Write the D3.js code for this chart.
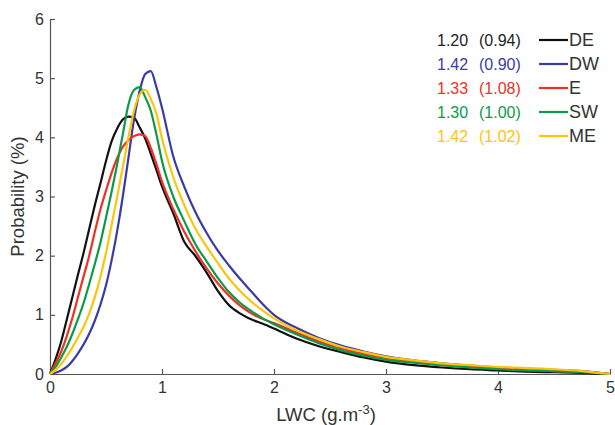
<!DOCTYPE html>
<html>
<head>
<meta charset="utf-8">
<script src="https://cdn.jsdelivr.net/npm/d3@7"></script>
<style>
  body { margin: 0; background: #fff; }
  svg { display: block; font-family: 'Liberation Sans', Arial, sans-serif; }
  .axis path, .axis line { stroke: #555; stroke-width: 1.2; }
  .axis text { font-size: 16px; fill: #333; }
</style>
</head>
<body>
<div id="chart"></div>
<script>
// LWC grid (g.m-3)
const lwc = [0, 0.05, 0.1, 0.15, 0.2, 0.25, 0.3, 0.35, 0.4, 0.45, 0.5, 0.55, 0.6, 0.65, 0.7, 0.75, 0.8, 0.85, 0.9, 0.95,
  1.0, 1.1, 1.2, 1.3, 1.4, 1.5, 1.6, 1.7, 1.8, 1.9, 2.0, 2.2, 2.4, 2.6, 2.8, 3.0, 3.25, 3.5, 3.75, 4.0, 4.25, 4.5, 4.75, 5.0];

// probability (%) per regime
const probDE = [0, 0.25, 0.55, 0.92, 1.3, 1.68, 2.05, 2.45, 2.85, 3.22, 3.6, 3.93, 4.15, 4.3, 4.35, 4.33, 4.17, 3.98, 3.72, 3.45,
  3.17, 2.72, 2.23, 1.99, 1.71, 1.40, 1.16, 1.02, 0.92, 0.85, 0.77, 0.60, 0.47, 0.37, 0.28, 0.21, 0.15, 0.11, 0.08, 0.06, 0.04, 0.03, 0.02, 0];
const probDW = [0, 0.02, 0.06, 0.12, 0.22, 0.35, 0.5, 0.68, 0.9, 1.17, 1.5, 1.92, 2.42, 3.0, 3.65, 4.3, 4.78, 5.07, 5.12, 4.85,
  4.5, 3.68, 3.16, 2.73, 2.38, 2.08, 1.83, 1.6, 1.39, 1.18, 1.0, 0.78, 0.61, 0.48, 0.38, 0.30, 0.23, 0.18, 0.14, 0.11, 0.09, 0.07, 0.05, 0];
const probE = [0, 0.18, 0.38, 0.64, 0.95, 1.3, 1.65, 2.0, 2.4, 2.78, 3.1, 3.4, 3.65, 3.84, 3.95, 4.02, 4.05, 4.02, 3.82, 3.55,
  3.25, 2.79, 2.40, 2.07, 1.78, 1.53, 1.32, 1.15, 1.02, 0.93, 0.86, 0.70, 0.55, 0.43, 0.34, 0.27, 0.20, 0.15, 0.12, 0.09, 0.07, 0.05, 0.04, 0];
const probSW = [0, 0.12, 0.28, 0.46, 0.68, 0.93, 1.2, 1.52, 1.86, 2.22, 2.64, 3.08, 3.55, 4.05, 4.55, 4.8, 4.85, 4.68, 4.45, 4.05,
  3.6, 3.0, 2.58, 2.19, 1.90, 1.62, 1.38, 1.20, 1.06, 0.94, 0.84, 0.67, 0.52, 0.40, 0.31, 0.24, 0.19, 0.15, 0.11, 0.08, 0.06, 0.05, 0.03, 0];
const probME = [0, 0.07, 0.17, 0.3, 0.45, 0.62, 0.8, 1.02, 1.3, 1.64, 2.05, 2.52, 3.0, 3.5, 4.0, 4.45, 4.72, 4.8, 4.65, 4.4,
  3.98, 3.33, 2.85, 2.45, 2.15, 1.87, 1.61, 1.40, 1.22, 1.07, 0.94, 0.74, 0.59, 0.46, 0.37, 0.29, 0.23, 0.18, 0.15, 0.12, 0.10, 0.08, 0.05, 0];

const names = ['DE', 'DW', 'E', 'SW', 'ME'];
const means = ['1.20', '1.42', '1.33', '1.30', '1.42'];
const sds = ['(0.94)', '(0.90)', '(1.08)', '(1.00)', '(1.02)'];
const colors = ['#111111', '#3a3aa8', '#ee3124', '#0c9a48', '#fcc50c'];
const textColors = ['#222222', '#3a3aa8', '#ee3124', '#0c9a48', '#fcc50c'];

const xTicks = [0, 1, 2, 3, 4, 5];
const yTicks = [0, 1, 2, 3, 4, 5, 6];

const width = 615, height = 425;
const margin = {top: 19, right: 5, bottom: 51, left: 50};

const svg = d3.select('#chart').append('svg')
  .attr('width', width)
  .attr('height', height);

const x = d3.scaleLinear().domain([0, 5]).range([margin.left, width - margin.right]);
const y = d3.scaleLinear().domain([0, 6]).range([height - margin.bottom, margin.top]);

// axes, ticks point inward
svg.append('g')
  .attr('class', 'axis')
  .attr('transform', `translate(0, ${y(0)})`)
  .call(d3.axisBottom(x).tickValues(xTicks).tickFormat(d3.format('d'))
    .tickSizeInner(-5).tickSizeOuter(0).tickPadding(7))
  .call(function (g) { g.selectAll('text').attr('dy', '0.75em'); });

svg.append('g')
  .attr('class', 'axis')
  .attr('transform', `translate(${x(0)}, 0)`)
  .call(d3.axisLeft(y).tickValues(yTicks).tickFormat(d3.format('d'))
    .tickSizeInner(-5).tickSizeOuter(0).tickPadding(6));

const series = [probDE, probDW, probE, probSW, probME];

const line = d3.line()
  .x(function (d, i) { return x(lwc[i]); })
  .y(function (d) { return y(d); })
  .curve(d3.curveMonotoneX);

// draw DE first so coloured curves sit over it
svg.selectAll('.curve')
  .data(series)
  .enter()
  .append('path')
  .attr('class', 'curve')
  .attr('d', line)
  .attr('fill', 'none')
  .attr('stroke', function (d, i) { return colors[i]; })
  .attr('stroke-width', 2.2)
  .attr('stroke-linejoin', 'round');

// axis titles
svg.append('text')
  .attr('transform', `translate(24, ${(y(0) + y(6)) / 2}) rotate(-90)`)
  .attr('text-anchor', 'middle')
  .style('font-size', '18.5px')
  .style('fill', '#333')
  .text('Probability (%)');

const xLabel = svg.append('text')
  .attr('x', x(2.5) - 4)
  .attr('y', 421)
  .attr('text-anchor', 'middle')
  .style('font-size', '18.5px')
  .style('fill', '#333');
xLabel.append('tspan').text('LWC (g.m');
xLabel.append('tspan').attr('dy', -7).style('font-size', '13px').text('-3');
xLabel.append('tspan').attr('dy', 7).text(')');

// legend
const legend = svg.selectAll('.legend')
  .data(names)
  .enter()
  .append('g')
  .attr('class', 'legend')
  .attr('transform', function (d, i) { return `translate(0, ${40 + i * 24})`; });

legend.append('text')
  .attr('x', 437)
  .attr('dy', '0.35em')
  .style('font-size', '16px')
  .style('fill', function (d, i) { return textColors[i]; })
  .text(function (d, i) { return means[i]; });

legend.append('text')
  .attr('x', 479)
  .attr('dy', '0.35em')
  .style('font-size', '16px')
  .style('fill', function (d, i) { return textColors[i]; })
  .text(function (d, i) { return sds[i]; });

legend.append('line')
  .attr('x1', 539)
  .attr('x2', 568)
  .attr('stroke', function (d, i) { return colors[i]; })
  .attr('stroke-width', 2.2);

legend.append('text')
  .attr('x', 569)
  .attr('dy', '0.35em')
  .style('font-size', '18px')
  .style('fill', '#333')
  .text(function (d) { return d; });
</script>
</body>
</html>
